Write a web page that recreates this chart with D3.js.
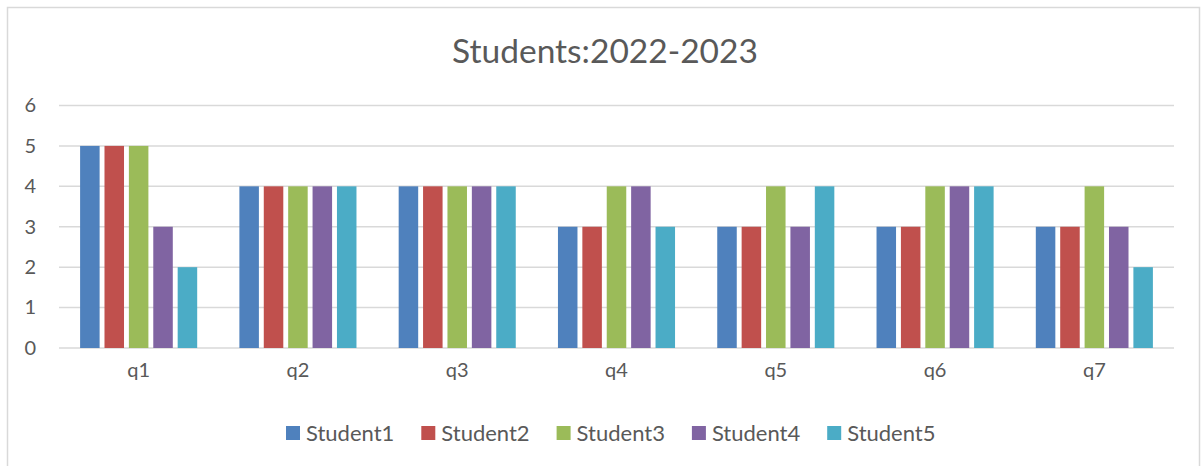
<!DOCTYPE html>
<html><head><meta charset="utf-8">
<script src="https://cdn.jsdelivr.net/npm/d3@7"></script>
<style>body{margin:0;background:#fff}svg text{font-family:Lato,"Open Sans",sans-serif;fill:#595959}</style>
</head><body><svg id="c" width="1203" height="466"></svg>
<script>
const categories = ["q1","q2","q3","q4","q5","q6","q7"];
const seriesNames = ["Student1","Student2","Student3","Student4","Student5"];
const student1 = [5,4,4,3,3,3,3];
const student2 = [5,4,4,3,3,3,3];
const student3 = [5,4,4,4,4,4,4];
const student4 = [3,4,4,4,3,4,3];
const student5 = [2,4,4,3,4,4,2];
const yTicks = [0,1,2,3,4,5,6];
const colors = ["#4F81BD","#C0504D","#9BBB59","#8064A2","#4BACC6"];
const seriesValues = [student1,student2,student3,student4,student5];

const svg = d3.select("#c");
svg.append("rect").attr("x",7.5).attr("y",7.5).attr("width",1192).attr("height",470)
  .attr("fill","#fff").attr("stroke","#d9d9d9").attr("stroke-width",1.5);

const x0 = d3.scaleBand().domain(categories).range([59,1174]).padding(0);
const x1 = d3.scaleBand().domain(seriesNames).range([0,x0.bandwidth()]).paddingInner(0.2).paddingOuter(0.865);
const y = d3.scaleLinear().domain([0,6]).range([348,105.5]);

svg.append("g").selectAll("line").data(yTicks).join("line")
  .attr("x1",59).attr("x2",1174).attr("y1",d=>y(d)).attr("y2",d=>y(d))
  .attr("stroke","#d9d9d9").attr("stroke-width",1.5);

const yAxis = svg.append("g").attr("transform","translate(59,0)")
  .call(d3.axisLeft(y).tickValues(yTicks).tickFormat(d3.format("d")).tickSize(0).tickPadding(23));
yAxis.select(".domain").remove();
yAxis.selectAll("text").attr("font-size",20).attr("fill","#595959");

const groups = svg.append("g").selectAll("g").data(categories).join("g")
  .attr("transform",d=>`translate(${x0(d)},0)`);
groups.selectAll("rect").data((d,i)=>seriesNames.map((s,j)=>({s,v:seriesValues[j][i],j}))).join("rect")
  .attr("x",d=>x1(d.s)).attr("width",x1.bandwidth())
  .attr("y",d=>y(d.v)).attr("height",d=>y(0)-y(d.v)).attr("fill",d=>colors[d.j]);

const xAxis = svg.append("g").attr("transform","translate(0,348)")
  .call(d3.axisBottom(x0).tickSize(0).tickPadding(15));
xAxis.select(".domain").remove();
xAxis.selectAll("text").attr("font-size",20).attr("fill","#595959");

svg.append("text").attr("x",605).attr("y",63).attr("text-anchor","middle")
  .attr("font-size",33.5).text("Students:2022-2023");

const leg = svg.append("g").selectAll("g").data(seriesNames).join("g")
  .attr("transform",(d,i)=>`translate(${286+i*135.3},0)`);
leg.append("rect").attr("x",0).attr("y",426).attr("width",14).attr("height",14).attr("fill",(d,i)=>colors[i]);
leg.append("text").attr("x",20).attr("y",441).attr("font-size",22).text(d=>d);
</script></body></html>
